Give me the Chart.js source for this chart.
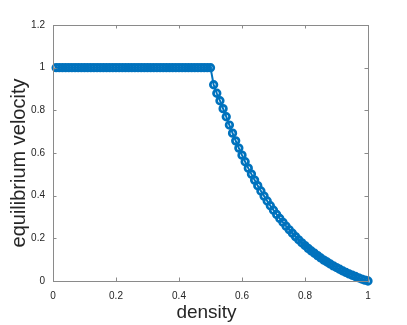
<!DOCTYPE html>
<html><head><meta charset="utf-8">
<script src="https://cdn.jsdelivr.net/npm/chart.js@4"></script>
<style>html,body{margin:0;padding:0;background:#fff}#w{width:407px;height:325px}</style>
</head><body><div id="w"><canvas id="c"></canvas></div>
<script>
const density = [0.01,0.02,0.03,0.04,0.05,0.06,0.07,0.08,0.09,0.10,0.11,0.12,0.13,0.14,0.15,0.16,0.17,0.18,0.19,0.20,
0.21,0.22,0.23,0.24,0.25,0.26,0.27,0.28,0.29,0.30,0.31,0.32,0.33,0.34,0.35,0.36,0.37,0.38,0.39,0.40,
0.41,0.42,0.43,0.44,0.45,0.46,0.47,0.48,0.49,0.50,
0.51,0.52,0.53,0.54,0.55,0.56,0.57,0.58,0.59,0.60,0.61,0.62,0.63,0.64,0.65,0.66,0.67,0.68,0.69,0.70,
0.71,0.72,0.73,0.74,0.75,0.76,0.77,0.78,0.79,0.80,0.81,0.82,0.83,0.84,0.85,0.86,0.87,0.88,0.89,0.90,
0.91,0.92,0.93,0.94,0.95,0.96,0.97,0.98,0.99,1.00];
const velocity = [1,1,1,1,1,1,1,1,1,1,1,1,1,1,1,1,1,1,1,1,
1,1,1,1,1,1,1,1,1,1,1,1,1,1,1,1,1,1,1,1,
1,1,1,1,1,1,1,1,1,1,
0.92,0.88,0.845,0.808,0.77,0.731,0.693,0.657,0.623,0.59,0.559,0.529,0.501,0.473,0.447,0.422,0.398,0.375,0.353,0.332,
0.312,0.293,0.275,0.257,0.240,0.224,0.208,0.193,0.179,0.166,0.153,0.141,0.130,0.119,0.108,0.098,0.089,0.080,0.071,0.063,
0.055,0.047,0.040,0.033,0.027,0.021,0.015,0.009,0.004,0];
const xTicks = [0,0.2,0.4,0.6,0.8,1];
const yTicks = [0,0.2,0.4,0.6,0.8,1,1.2];
const xTitle = 'density';
const yTitle = 'equilibrium velocity';

const points = density.map((d,i)=>({x:d,y:velocity[i]}));
const blue = '#0072BD';
const axisColor = '#8a8a8a';
const FONT = 'Liberation Sans, Arial, sans-serif';

const boxPlugin = {
  id:'box',
  afterDraw(chart){
    const {ctx, chartArea:a, scales:{x,y}} = chart;
    ctx.save();
    ctx.strokeStyle = axisColor;
    ctx.lineWidth = 1;
    ctx.strokeRect(a.left+0.5, a.top+0.5, a.right-a.left, a.bottom-a.top);
    const L = 3.5;
    ctx.beginPath();
    xTicks.forEach(v=>{
      const p = Math.round(x.getPixelForValue(v))+0.5;
      ctx.moveTo(p,a.bottom); ctx.lineTo(p,a.bottom-L);
      ctx.moveTo(p,a.top); ctx.lineTo(p,a.top+L);
    });
    yTicks.forEach(v=>{
      const p = Math.round(y.getPixelForValue(v))+0.5;
      ctx.moveTo(a.left,p); ctx.lineTo(a.left+L,p);
      ctx.moveTo(a.right,p); ctx.lineTo(a.right-L,p);
    });
    ctx.stroke();
    ctx.fillStyle = '#262626';
    ctx.textAlign = 'center';
    ctx.textBaseline = 'middle';
    ctx.font = '19px ' + FONT;
    ctx.fillText(xTitle, (a.left+a.right)/2 - 4, 313);
    ctx.translate(19, (a.top+a.bottom)/2 + 10);
    ctx.rotate(-Math.PI/2);
    ctx.font = '20px ' + FONT;
    ctx.fillText(yTitle, 0, 0);
    ctx.restore();
  }
};

new Chart(document.getElementById('c'),{
  type:'line',
  data:{datasets:[{
    data:points,
    borderColor:blue,
    borderWidth:2,
    pointStyle:'circle',
    pointRadius:3.3,
    pointBorderWidth:2.7,
    pointBorderColor:blue,
    pointBackgroundColor:'rgba(255,255,255,0)',
    tension:0,
    clip:false
  }]},
  options:{
    responsive:true, maintainAspectRatio:false, animation:false,
    layout:{padding:{top:25,right:39,left:0,bottom:0}},
    plugins:{legend:{display:false},tooltip:{enabled:false}},
    scales:{
      x:{type:'linear',min:0,max:1,
        afterBuildTicks(s){s.ticks = xTicks.map(v=>({value:v}));},
        afterFit(s){s.height=44;},
        grid:{display:false,drawTicks:false},border:{display:false},
        ticks:{padding:9,color:'#262626',font:{family:FONT,size:10},
          callback:v=>String(+v.toFixed(1))}
      },
      y:{type:'linear',min:0,max:1.2,
        afterBuildTicks(s){s.ticks = yTicks.map(v=>({value:v}));},
        afterFit(s){s.width=53;},
        grid:{display:false,drawTicks:false},border:{display:false},
        ticks:{padding:8,color:'#262626',font:{family:FONT,size:10},
          callback:v=>String(+v.toFixed(1))}
      }
    }
  },
  plugins:[boxPlugin]
});
</script></body></html>
